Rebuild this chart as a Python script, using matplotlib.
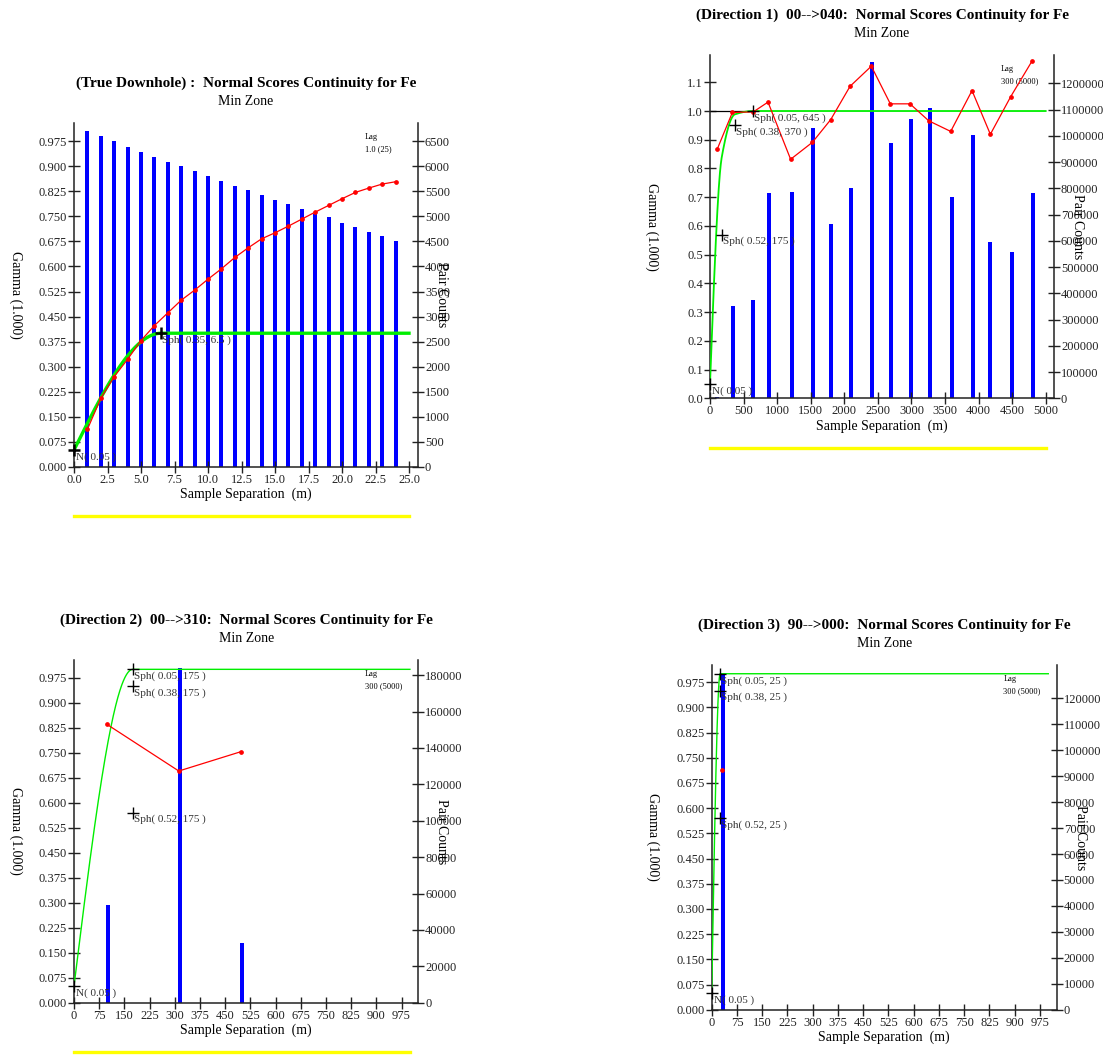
import numpy as np
import matplotlib
matplotlib.use("Agg")
import matplotlib.pyplot as plt
import matplotlib.transforms as mtrans

plt.rcParams['font.family'] = ['Liberation Serif', 'DejaVu Serif']

# ---- down-hole variogram (lag 1.0 m) ----
dh_lag = [1, 2, 3, 4, 5, 6, 7, 8, 9, 10, 11, 12, 13, 14, 15, 16, 17, 18, 19, 20, 21, 22, 23, 24]
dh_gamma = [0.112, 0.205, 0.270, 0.322, 0.378, 0.423, 0.461, 0.499, 0.529, 0.562, 0.593, 0.627,
            0.656, 0.683, 0.701, 0.721, 0.742, 0.763, 0.783, 0.803, 0.822, 0.835, 0.847, 0.854]
dh_pairs = [6713, 6613, 6513, 6393, 6293, 6193, 6093, 6013, 5913, 5813, 5713, 5613,
            5533, 5433, 5333, 5253, 5153, 5053, 4980, 4873, 4793, 4693, 4613, 4513]
dh_nugget = 0.05
dh_struct = [(0.35, 6.5)]

# ---- direction 1 (00->040) ----
d1_lag = [109, 333, 645, 864, 1201, 1525, 1798, 2086, 2403, 2686, 2979, 3258, 3585, 3903, 4176, 4479, 4797]
d1_gamma = [0.868, 0.995, 0.997, 1.031, 0.832, 0.891, 0.970, 1.086, 1.156, 1.025, 1.025, 0.966,
            0.929, 1.071, 0.919, 1.050, 1.174]
d1_bar_lag = [109, 343, 636, 879, 1222, 1534, 1802, 2100, 2413, 2696, 2990, 3277, 3605, 3913, 4171, 4499, 4812]
d1_pairs = [6000, 351600, 374500, 783000, 786000, 1029700, 664000, 802000, 1281000, 973700,
            1063000, 1107000, 768000, 1004000, 596600, 558500, 783000]
d1_nugget = 0.05
d1_struct = [(0.52, 175), (0.38, 370), (0.05, 645)]

# ---- direction 2 (00->310) ----
d2_lag = [98, 312, 497]
d2_gamma = [0.835, 0.695, 0.753]
d2_bar_lag = [100, 315, 500]
d2_pairs = [53500, 184000, 32600]
d2_nugget = 0.05
d2_struct = [(0.52, 175), (0.38, 175), (0.05, 175)]

# ---- direction 3 (90->000) ----
d3_lag = [30]
d3_gamma = [0.713]
d3_bar_lag = [33]
d3_pairs = [129600]
d3_nugget = 0.05
d3_struct = [(0.52, 25), (0.38, 25), (0.05, 25)]

W, H = 1103, 1056
fig = plt.figure(figsize=(W / 100, H / 100), dpi=100)


def sph_model(h, nugget, structs):
    g = np.full_like(h, nugget, dtype=float)
    for c, a in structs:
        r = np.clip(h / a, 0, 1)
        g += c * (1.5 * r - 0.5 * r ** 3)
    return g


def panel(box, title, lag, gamma, bar_lag, pairs, nugget, structs, xmax, xend, xticks, xfmt,
          yticks, yfmt, ytop, rticks, rtop, barw, lagtxt, glw, cross_mew, sill_line=False):
    l, b, r, t = box
    ax = fig.add_axes([l / W, 1 - b / H, (r - l) / W, (b - t) / H])
    ax2 = ax.twinx()
    ax.set_zorder(ax2.get_zorder() + 1)
    ax.patch.set_visible(False)

    # pair counts as bars on the right axis
    ax2.bar(bar_lag, pairs, width=barw, color='#0000ff', zorder=1)
    ax2.set_ylim(0, rtop)
    ax2.set_yticks(rticks)
    ax2.set_yticklabels([str(v) for v in rticks])

    # model
    h = np.linspace(0, xend, 2000)
    ax.plot(h, sph_model(h, nugget, structs), color='#00ee00', lw=glw, zorder=3)
    if sill_line:
        tot = nugget + sum(c for c, a in structs)
        ax.plot([0, structs[-1][1]], [tot, tot], color='black', lw=0.9, zorder=2)

    # experimental points
    ax.plot(lag, gamma, color='red', lw=0.9, marker='o', ms=2.4, zorder=4)

    # structure markers
    ax.plot([0], [nugget], marker='+', color='black', ms=9, mew=cross_mew, zorder=5, clip_on=False)
    ax.annotate('N( %.2f )' % nugget, (0, nugget), xytext=(2, -7), textcoords='offset pixels',
                fontsize=8, color='#333333', va='center', ha='left', zorder=6)
    cum = nugget
    for c, a in structs:
        cum += c
        ax.plot([a], [cum], marker='+', color='black', ms=9, mew=cross_mew, zorder=5)
        ax.annotate('Sph( %.2f, %s )' % (c, ('%g' % a)), (a, cum), xytext=(1, -7),
                    textcoords='offset pixels', fontsize=8, color='#333333',
                    va='center', ha='left', zorder=6)

    ax.set_xlim(0, xmax)
    ax.set_ylim(0, ytop)
    ax.set_xticks(xticks)
    ax.set_xticklabels([xfmt % v for v in xticks])
    ax.set_yticks(yticks)
    ax.set_yticklabels([yfmt % v for v in yticks])

    for a_ in (ax, ax2):
        a_.spines['top'].set_visible(False)
        for s in a_.spines.values():
            s.set_linewidth(1.1)
            s.set_color('#222222')
        a_.tick_params(direction='inout', length=8, width=1, colors='#222222',
                       labelsize=9, pad=1)
    ax.spines['right'].set_visible(False)
    ax2.spines['left'].set_visible(False)
    ax2.spines['bottom'].set_visible(False)

    ax.text(0.5, 1.115, title, transform=ax.transAxes, ha='center', va='center',
            fontsize=11, fontweight='bold')
    ax.text(0.5, 1.062, 'Min Zone', transform=ax.transAxes, ha='center', va='center', fontsize=10)
    ax.text(0.5, -0.08, 'Sample Separation  (m)', transform=ax.transAxes, ha='center',
            va='center', fontsize=10)
    ax.text(-0.17, 0.5, 'Gamma (1.000)', transform=ax.transAxes, ha='center', va='center',
            rotation=270, fontsize=10)
    ax.text(1.068, 0.5, 'Pair Counts', transform=ax.transAxes, ha='center', va='center',
            rotation=270, fontsize=10)
    ax.text(0.845, 0.958, 'Lag', transform=ax.transAxes, ha='left', va='center', fontsize=6)
    ax.text(0.845, 0.925, lagtxt, transform=ax.transAxes, ha='left', va='center', fontsize=6)

    trans = mtrans.blended_transform_factory(ax.transData, ax.transAxes)
    ax.plot([0, xend], [-0.144, -0.144], color='#ffff00', lw=2.4, transform=trans, clip_on=False)
    return ax


panel((74, 466.7, 418, 123), '(True Downhole) :  Normal Scores Continuity for Fe',
      dh_lag, dh_gamma, dh_lag, dh_pairs, dh_nugget, dh_struct,
      xmax=25.67, xend=25, xticks=np.arange(0, 25.01, 2.5), xfmt='%.1f',
      yticks=np.arange(0, 0.98, 0.075), yfmt='%.3f', ytop=1.030,
      rticks=list(range(0, 6501, 500)), rtop=6867, barw=0.3, lagtxt='1.0 (25)',
      glw=2.4, cross_mew=1.8)

panel((710, 398.3, 1054, 55), '(Direction 1)  00-->040:  Normal Scores Continuity for Fe',
      d1_lag, d1_gamma, d1_bar_lag, d1_pairs, d1_nugget, d1_struct,
      xmax=5124, xend=5000, xticks=list(range(0, 5001, 500)), xfmt='%d',
      yticks=np.arange(0, 1.15, 0.1), yfmt='%.1f', ytop=1.195,
      rticks=list(range(0, 1200001, 100000)), rtop=1307900, barw=60, lagtxt='300 (5000)',
      glw=1.3, cross_mew=1.0, sill_line=True)

panel((74, 1002.7, 418.3, 660), '(Direction 2)  00-->310:  Normal Scores Continuity for Fe',
      d2_lag, d2_gamma, d2_bar_lag, d2_pairs, d2_nugget, d2_struct,
      xmax=1025, xend=1000, xticks=list(range(0, 976, 75)), xfmt='%d',
      yticks=np.arange(0, 0.98, 0.075), yfmt='%.3f', ytop=1.028,
      rticks=list(range(0, 180001, 20000)), rtop=188300, barw=12, lagtxt='300 (5000)',
      glw=1.0, cross_mew=1.0)

panel((711.7, 1009.7, 1056.7, 665), '(Direction 3)  90-->000:  Normal Scores Continuity for Fe',
      d3_lag, d3_gamma, d3_bar_lag, d3_pairs, d3_nugget, d3_struct,
      xmax=1025, xend=1000, xticks=list(range(0, 976, 75)), xfmt='%d',
      yticks=np.arange(0, 0.98, 0.075), yfmt='%.3f', ytop=1.026,
      rticks=list(range(0, 120001, 10000)), rtop=132850, barw=11, lagtxt='300 (5000)',
      glw=1.0, cross_mew=1.0)

fig.savefig('out.png', dpi=100)
